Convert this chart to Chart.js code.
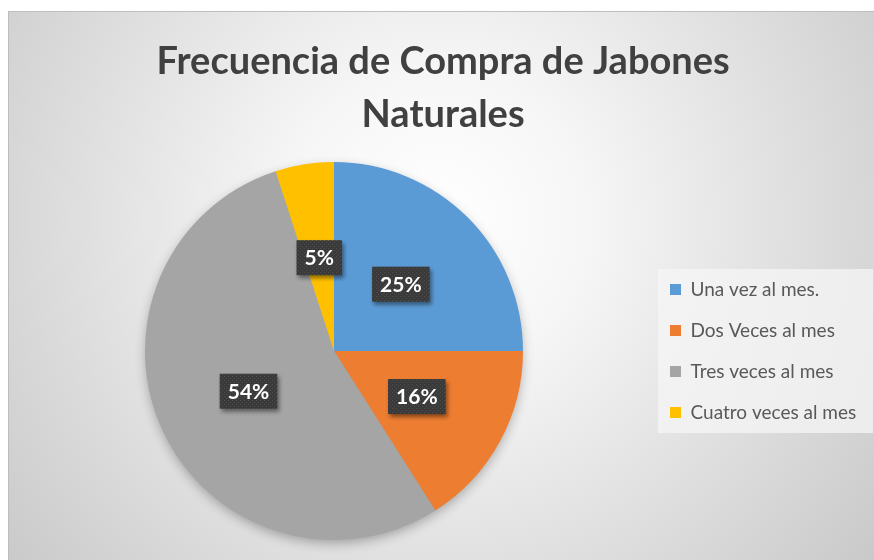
<!DOCTYPE html>
<html lang="es">
<head>
<meta charset="utf-8">
<title>Frecuencia de Compra de Jabones Naturales</title>
<script src="https://cdn.jsdelivr.net/npm/chart.js"></script>
<style>
  html, body { margin: 0; padding: 0; background: #fff; }
  canvas { display: block; }
</style>
</head>
<body>
<canvas id="grafico" width="874" height="560"></canvas>
<script>
// Datos del grafico
const titulo = ["Frecuencia de Compra de Jabones", "Naturales"];
const categorias = ["Una vez al mes.", "Dos Veces al mes", "Tres veces al mes", "Cuatro veces al mes"];
const porcentajes = [25, 16, 54, 5];
const colores = ["#5b9bd5", "#ed7d31", "#a5a5a5", "#ffc000"];

const fuente = "Lato, 'Open Sans', sans-serif";
const tamLeyenda = 19;

// On mide el texto mas largo de la leyenda para dejar la torta en su sitio
const medidor = document.createElement("canvas").getContext("2d");
medidor.font = tamLeyenda + "px " + fuente;
let anchoTexto = 0;
for (let i = 0; i < categorias.length; i++) {
    anchoTexto = Math.max(anchoTexto, medidor.measureText(categorias[i]).width);
}
const anchoLeyenda = 22 + 11 + tamLeyenda / 2 + anchoTexto + 10;
const bordeDerecho = Math.max(0, 874 - 648 - anchoLeyenda);

// Fondo degradado + caja gris de la leyenda
const fondo = {
    id: "fondo",
    beforeDraw(chart) {
        const ctx = chart.ctx;
        ctx.save();
        ctx.fillStyle = "#ffffff";
        ctx.fillRect(0, 0, chart.width, chart.height);
        const g = ctx.createRadialGradient(437, 220, 0, 437, 220, 600);
        g.addColorStop(0, "#ffffff");
        g.addColorStop(0.25, "#f6f6f6");
        g.addColorStop(1, "#c4c4c4");
        ctx.fillStyle = g;
        ctx.fillRect(8, 11, chart.width - 8, chart.height - 11);
        ctx.strokeStyle = "#bdbdbd";
        ctx.lineWidth = 1;
        ctx.beginPath();
        ctx.moveTo(8, 11.5);
        ctx.lineTo(chart.width, 11.5);
        ctx.moveTo(8.5, 11);
        ctx.lineTo(8.5, chart.height);
        ctx.stroke();

        const cajas = chart.legend.legendHitBoxes;
        if (cajas && cajas.length) {
            const arriba = cajas[0].top - 11;
            const ultima = cajas[cajas.length - 1];
            const abajo = ultima.top + ultima.height + 11;
            ctx.fillStyle = "rgba(246, 246, 246, 0.75)";
            ctx.fillRect(chart.legend.left + 10, arriba, 873 - chart.legend.left - 10, abajo - arriba);
        }
        ctx.restore();
    }
};

// Sombra suave debajo de la torta
const sombra = {
    id: "sombra",
    beforeDatasetsDraw(chart) {
        const arco = chart.getDatasetMeta(0).data[0];
        const ctx = chart.ctx;
        ctx.save();
        ctx.shadowColor = "rgba(0, 0, 0, 0.3)";
        ctx.shadowBlur = 12;
        ctx.shadowOffsetY = 4;
        ctx.fillStyle = "#a5a5a5";
        ctx.beginPath();
        ctx.arc(arco.x, arco.y, arco.outerRadius - 1, 0, Math.PI * 2);
        ctx.fill();
        ctx.restore();
    }
};

function motivoPunteado(ctx) {
    const c = document.createElement("canvas");
    c.width = 4;
    c.height = 4;
    const p = c.getContext("2d");
    p.fillStyle = "#3a3a3a";
    p.fillRect(0, 0, 4, 4);
    p.fillStyle = "#4e4e4e";
    p.fillRect(0, 0, 1, 1);
    p.fillRect(2, 2, 1, 1);
    return ctx.createPattern(c, "repeat");
}

// Etiquetas de porcentaje en cajas oscuras
const etiquetas = {
    id: "etiquetas",
    afterDatasetsDraw(chart) {
        const ctx = chart.ctx;
        const meta = chart.getDatasetMeta(0);
        const motivo = motivoPunteado(ctx);
        ctx.save();
        ctx.font = "bold 21px " + fuente;
        ctx.textAlign = "center";
        ctx.textBaseline = "middle";
        meta.data.forEach(function (arco, i) {
            const pos = arco.tooltipPosition();
            const texto = porcentajes[i] + "%";
            const w = ctx.measureText(texto).width + 16;
            const h = 35;
            ctx.save();
            ctx.shadowColor = "rgba(0, 0, 0, 0.45)";
            ctx.shadowBlur = 4;
            ctx.shadowOffsetX = 2;
            ctx.shadowOffsetY = 3;
            ctx.fillStyle = motivo;
            ctx.fillRect(pos.x - w / 2, pos.y - h / 2, w, h);
            ctx.restore();
            ctx.fillStyle = "#ffffff";
            ctx.fillText(texto, pos.x, pos.y + 1);
        });
        ctx.restore();
    }
};

const data = {
    labels: categorias,
    datasets: [{
        data: porcentajes,
        backgroundColor: colores,
        borderWidth: 0
    }]
};

const config = {
    type: "pie",
    data: data,
    options: {
        responsive: false,
        animation: false,
        events: [],
        layout: {
            padding: { left: 20, right: bordeDerecho, top: 0, bottom: 20 }
        },
        plugins: {
            title: {
                display: true,
                text: titulo,
                color: "#404040",
                font: { family: fuente, size: 38, weight: "bold", lineHeight: 1.395 },
                padding: { top: 35, bottom: 21 }
            },
            legend: {
                position: "right",
                fullSize: false,
                labels: {
                    color: "#595959",
                    font: { family: fuente, size: tamLeyenda },
                    boxWidth: 11,
                    boxHeight: 11,
                    padding: 22
                }
            },
            tooltip: { enabled: false }
        }
    },
    plugins: [fondo, sombra, etiquetas]
};

const graficoTorta = new Chart(document.querySelector("#grafico"), config);
</script>
</body>
</html>
